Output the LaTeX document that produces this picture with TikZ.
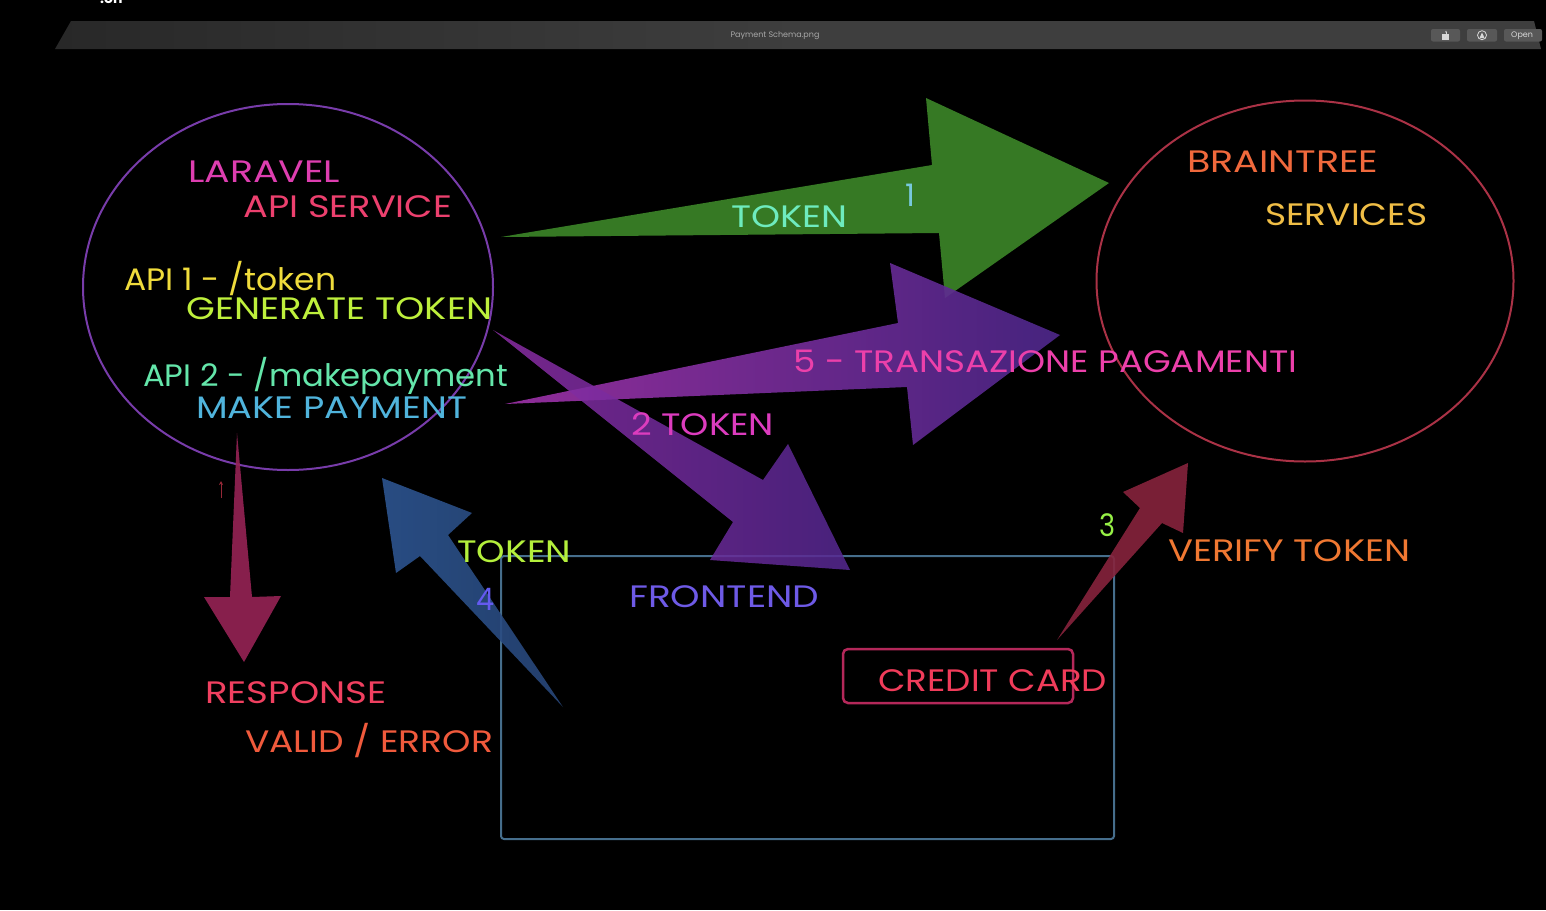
\documentclass[tikz,border=0pt]{standalone}
\usepackage{fontspec}
\usepackage{graphicx}
\setmainfont{Poppins}
\usetikzlibrary{shapes.geometric,arrows.meta}
\newcommand{\fitw}[2]{\resizebox{#1pt}{\height}{#2}}
\definecolor{cLaravel}{RGB}{222,62,176}
\definecolor{cApiServ}{RGB}{236,64,110}
\definecolor{cApiOne}{RGB}{240,220,60}
\definecolor{cGenTok}{RGB}{190,240,60}
\definecolor{cApiTwo}{RGB}{100,230,170}
\definecolor{cMakePay}{RGB}{80,180,220}
\definecolor{cTokTop}{RGB}{110,235,190}
\definecolor{cOne}{RGB}{120,200,220}
\definecolor{cBrain}{RGB}{240,105,60}
\definecolor{cServ}{RGB}{240,190,70}
\definecolor{cTrans}{RGB}{236,64,170}
\definecolor{cTwoTok}{RGB}{220,60,190}
\definecolor{cTokLow}{RGB}{180,240,60}
\definecolor{cFour}{RGB}{100,90,240}
\definecolor{cFront}{RGB}{110,90,230}
\definecolor{cThree}{RGB}{150,240,70}
\definecolor{cVerify}{RGB}{240,120,50}
\definecolor{cCredit}{RGB}{240,60,90}
\definecolor{cResp}{RGB}{240,64,96}
\definecolor{cValid}{RGB}{240,90,60}
\definecolor{aGreen}{RGB}{60,135,40}
\definecolor{aPurpL}{RGB}{160,50,170}
\definecolor{aPurpR}{RGB}{78,40,140}
\definecolor{aPurp2L}{RGB}{140,45,165}
\definecolor{aPurp2R}{RGB}{85,40,145}
\definecolor{aBlue}{RGB}{45,85,145}
\definecolor{aBlueT}{RGB}{40,70,120}
\definecolor{aRed}{RGB}{150,35,85}
\definecolor{aRedThree}{RGB}{135,35,60}
\definecolor{aTiny}{RGB}{150,40,55}
\definecolor{eLeft}{RGB}{120,60,170}
\definecolor{eRight}{RGB}{170,50,70}
\definecolor{rFront}{RGB}{70,110,140}
\definecolor{rCredit}{RGB}{180,40,90}
\definecolor{barA}{RGB}{40,40,40}
\definecolor{barB}{RGB}{62,62,62}
\definecolor{btn}{RGB}{88,88,88}
\definecolor{titlegrey}{RGB}{168,168,168}
\definecolor{icon}{RGB}{215,215,215}
\tikzset{
  lbl/.style={inner sep=0pt, anchor=base west, font=\fontsize{31}{33}\selectfont},
  bigarrow/.style={opacity=0.9},
  btnbox/.style={fill=btn, rounded corners=2pt},
}
\begin{document}
\begin{tikzpicture}[x=1pt,y=-1pt]
\clip (0,0) rectangle (1546,910);
\fill[black] (0,0) rectangle (1546,910);
% title bar
\shade[left color=barA, right color=barB, middle color=barB] (71,21) -- (1534,21) -- (1541,49) -- (55,49) -- cycle;
\node[inner sep=0pt, text=white, font=\bfseries\fontsize{14}{14}\selectfont, anchor=base west] (topfrag) at (100,3) {.on};
\node[inner sep=0pt, text=titlegrey, font=\fontsize{8}{9}\selectfont] (title) at (775,35.5) {Payment Schema.png};
\fill[btnbox] (1431,29) rectangle (1460,41.5);
\fill[btnbox] (1467,29) rectangle (1497,41.5);
\fill[btnbox] (1504,29) rectangle (1542,41.5);
\fill[icon] (1442,34) rectangle (1449,40);
\draw[icon, line width=0.8pt, -{Stealth[length=2pt]}] (1446,34) -- (1446,30.5);
\draw[icon, line width=0.8pt] (1482,35.2) circle (4.5pt);
\fill[icon] (1479.5,38) -- (1482,32.5) -- (1484.5,38) -- cycle;
\node[inner sep=0pt, text=icon, font=\fontsize{8}{9}\selectfont, anchor=west] (openbtn) at (1511,35.5) {Open};
% ellipses and boxes
\node[draw=eLeft, line width=2pt, ellipse, minimum width=410pt, minimum height=366pt, inner sep=0pt] (laravel) at (288,287) {};
\node[draw=eRight, line width=2pt, ellipse, minimum width=417pt, minimum height=361pt, inner sep=0pt] (braintree) at (1305,281) {};
\draw[rFront, line width=2pt, rounded corners=3pt] (501,556) rectangle (1114,839);
\coordinate (frontendbox) at (807,697);
\draw[rCredit, line width=2.5pt, rounded corners=5pt] (843,649) rectangle (1073,703);
\coordinate (creditbox) at (958,676);
% arrows
\fill[aGreen, bigarrow] (501,237) -- (932,165) -- (926,98) -- (1109,183) -- (945,298) -- (939,233) -- cycle;
\shade[left color=aPurpL, right color=aPurpR, bigarrow] (505,404) -- (898,323) -- (890,263) -- (1060,335) -- (913,445) -- (907,387) -- cycle;
\shade[left color=aPurp2L, right color=aPurp2R, opacity=0.85] (493,330) -- (763,480) -- (788,444) -- (850,570) -- (710,560) -- (733,522) -- cycle;
\shade[left color=aBlue, right color=aBlueT, opacity=0.9] (382,478) -- (472,513) -- (448,535) -- (563,707) -- (420,556) -- (396,573) -- cycle;
\fill[aRed, opacity=0.9] (237,433) -- (252,597) -- (281,596) -- (244,662) -- (204,597) -- (230,597) -- cycle;
\fill[aRedThree, opacity=0.9] (1057,640) -- (1140,508) -- (1123,492) -- (1188,463) -- (1183,533) -- (1162,523) -- cycle;
\draw[aTiny, line width=1pt, -{Stealth[length=4pt,width=4pt]}] (221,498) -- (221,481);
% texts
\node[lbl, text=cLaravel] (tLaravel) at (188,182.5) {\fitw{152}{LARAVEL}};
\node[lbl, text=cApiServ] (tApiServ) at (243,217.5) {\fitw{209}{API SERVICE}};
\node[lbl, text=cApiOne] (tApiOne) at (124,290) {\fitw{212}{API 1 - /token}};
\node[lbl, text=cGenTok] (tGenTok) at (186,319) {\fitw{306}{GENERATE TOKEN}};
\node[lbl, text=cApiTwo] (tApiTwo) at (143,386) {\fitw{365}{API 2 - /makepayment}};
\node[lbl, text=cMakePay] (tMakePay) at (196,418.5) {\fitw{271}{MAKE PAYMENT}};
\node[lbl, text=cTokTop] (tTokTop) at (731,227.5) {\fitw{116}{TOKEN}};
\node[lbl, text=cOne] (tOne) at (905,206.5) {1};
\node[lbl, text=cBrain] (tBrain) at (1187,172) {\fitw{191}{BRAINTREE}};
\node[lbl, text=cServ] (tServ) at (1265,225) {\fitw{162}{SERVICES}};
\node[lbl, text=cTrans] (tTrans) at (793,372) {\fitw{504}{5 - TRANSAZIONE PAGAMENTI}};
\node[lbl, text=cTwoTok] (tTwoTok) at (631,435.5) {\fitw{143}{2 TOKEN}};
\node[lbl, text=cTokLow] (tTokLow) at (457,562) {\fitw{114}{TOKEN}};
\node[lbl, text=cFour] (tFour) at (476,610) {\fitw{18}{4}};
\node[lbl, text=cFront] (tFront) at (629,607) {\fitw{190}{FRONTEND}};
\node[lbl, text=cThree] (tThree) at (1099,536) {\fitw{16}{3}};
\node[lbl, text=cVerify] (tVerify) at (1168,561.5) {\fitw{242}{VERIFY TOKEN}};
\node[lbl, text=cCredit] (tCredit) at (878,691) {\fitw{229}{CREDIT CARD}};
\node[lbl, text=cResp] (tResp) at (205,703.5) {\fitw{181}{RESPONSE}};
\node[lbl, text=cValid] (tValid) at (245,752) {\fitw{248}{VALID / ERROR}};
\end{tikzpicture}
\end{document}
